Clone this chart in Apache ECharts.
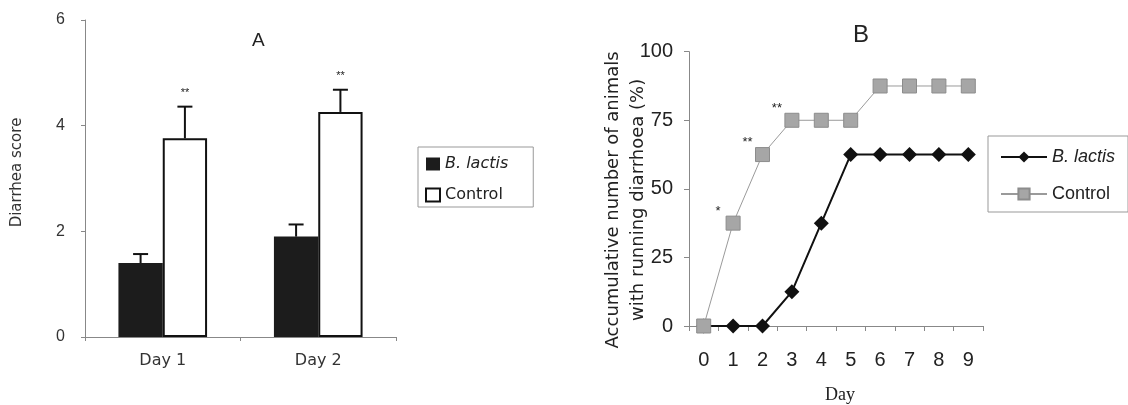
<!DOCTYPE html>
<html>
<head>
<meta charset="utf-8">
<script src="https://cdn.jsdelivr.net/npm/echarts@6/dist/echarts.min.js"></script>
<style>html,body{margin:0;padding:0;background:#fff;}#c{width:1128px;height:405px;}</style>
</head>
<body>
<div id="c"></div>
<script>
// ---- Panel A data ----
const daysA = ['Day 1', 'Day 2'];
const scoreBlactis = [1.40, 1.90];
const scoreControl = [3.76, 4.26];
const errTopBlactis = [1.57, 2.13];
const errTopControl = [4.36, 4.68];
const sigA = ['**', '**'];
const yTicksA = [0, 2, 4, 6];

// ---- Panel B data ----
const daysB = ['0', '1', '2', '3', '4', '5', '6', '7', '8', '9'];
const pctBlactis = [0, 0, 0, 12.5, 37.5, 62.5, 62.5, 62.5, 62.5, 62.5];
const pctControl = [0, 37.5, 62.5, 75, 75, 75, 87.5, 87.5, 87.5, 87.5];
const sigB = ['', '*', '**', '**', '', '', '', '', '', ''];
const yTicksB = [0, 25, 50, 75, 100];

const FONT = 'Liberation Sans, Arial, sans-serif';
const WIDE = 'DejaVu Sans, Liberation Sans, sans-serif';
const HALF = 0.1425; // half bar offset as fraction of band width

function errRender(side, sig) {
  return function (params, api) {
    const c = api.value(0);
    const p0 = api.coord([c, api.value(1)]);
    const p1 = api.coord([c, api.value(2)]);
    const bw = api.size([1, 0])[0];
    const x = p0[0] + side * bw * HALF;
    const cap = 7.5;
    const children = [
      {type: 'line', shape: {x1: x, y1: p0[1], x2: x, y2: p1[1]}, style: {stroke: '#111', lineWidth: 2}},
      {type: 'line', shape: {x1: x - cap, y1: p1[1], x2: x + cap, y2: p1[1]}, style: {stroke: '#111', lineWidth: 2}}
    ];
    if (sig) {
      children.push({type: 'text', style: {text: sig[params.dataIndex], x: x, y: p1[1] - 8, align: 'center', verticalAlign: 'bottom', fill: '#222', font: '11px ' + FONT}});
    }
    return {type: 'group', children: children};
  };
}

const legendFmt = function (n) {
  const t = n.slice(2);
  return t === 'B. lactis' ? '{i|' + t + '}' : t;
};

const chart = echarts.init(document.getElementById('c'), null, {renderer: 'canvas'});
chart.setOption({
  animation: false,
  backgroundColor: '#fff',
  title: [
    {text: 'A', left: 247, top: 26, textStyle: {fontFamily: FONT, fontSize: 19, fontWeight: 'normal', color: '#222'}},
    {text: 'B', left: 848, top: 18, textStyle: {fontFamily: FONT, fontSize: 24, fontWeight: 'normal', color: '#222'}}
  ],
  legend: [
    {
      data: ['A_B. lactis', 'A_Control'], orient: 'vertical', left: 418, top: 147,
      itemWidth: 14, itemHeight: 13, itemGap: 15, icon: 'rect',
      padding: [9, 25, 4, 7], borderColor: '#999', borderWidth: 1,
      formatter: legendFmt,
      textStyle: {fontFamily: WIDE, fontSize: 16, color: '#222', rich: {i: {fontStyle: 'italic', fontSize: 16, fontFamily: WIDE, color: '#222'}}}
    },
    {
      data: ['B_B. lactis', 'B_Control'], orient: 'vertical', left: 988, top: 136,
      itemWidth: 46, itemHeight: 14, itemGap: 19,
      padding: [12, 13, 9, 12], borderColor: '#999', borderWidth: 1,
      formatter: legendFmt,
      textStyle: {fontFamily: FONT, fontSize: 18, color: '#222', rich: {i: {fontStyle: 'italic', fontSize: 18, fontFamily: FONT, color: '#222'}}}
    }
  ],
  grid: [
    {left: 85, top: 20, width: 311, height: 317, containLabel: false, outerBoundsMode: 'none'},
    {left: 689, top: 51.7, width: 294, height: 274.3, containLabel: false, outerBoundsMode: 'none'}
  ],
  xAxis: [
    {
      gridIndex: 0, type: 'category', data: daysA, boundaryGap: true,
      axisLine: {lineStyle: {color: '#888', width: 1}},
      axisTick: {show: true, inside: false, length: 4, lineStyle: {color: '#888'}},
      axisLabel: {fontFamily: WIDE, fontSize: 16, color: '#333', margin: 16}
    },
    {
      gridIndex: 1, type: 'category', data: daysB, boundaryGap: true,
      axisLine: {lineStyle: {color: '#888', width: 1}},
      axisTick: {show: true, inside: false, length: 5, interval: 0, lineStyle: {color: '#888'}},
      axisLabel: {fontFamily: FONT, fontSize: 20, color: '#222', margin: 24, interval: 0},
      name: 'Day', nameLocation: 'middle', nameGap: 60, nameMoveOverlap: false,
      nameTextStyle: {fontFamily: 'Liberation Serif, Times New Roman, serif', fontSize: 18, color: '#222', padding: [0, 0, 0, 8]}
    }
  ],
  yAxis: [
    {
      gridIndex: 0, type: 'value', min: yTicksA[0], max: yTicksA[yTicksA.length - 1], interval: 2,
      axisLine: {show: true, lineStyle: {color: '#888', width: 1}},
      axisTick: {show: true, inside: false, length: 4, lineStyle: {color: '#888'}},
      splitLine: {show: false},
      axisLabel: {fontFamily: FONT, fontSize: 16, color: '#333', margin: 20},
      name: 'Diarrhea score', nameLocation: 'middle', nameRotate: 90, nameGap: 60, nameMoveOverlap: false,
      nameTextStyle: {fontFamily: WIDE, fontSize: 15, color: '#333', padding: [0, 0, 0, 12]}
    },
    {
      gridIndex: 1, type: 'value', min: yTicksB[0], max: yTicksB[yTicksB.length - 1], interval: 25,
      axisLine: {show: true, lineStyle: {color: '#888', width: 1}},
      axisTick: {show: true, inside: false, length: 5, lineStyle: {color: '#888'}},
      splitLine: {show: false},
      axisLabel: {fontFamily: FONT, fontSize: 20, color: '#222', margin: 16},
      name: 'Accumulative number of animals\nwith running diarrhoea (%)', nameLocation: 'middle', nameRotate: 90, nameGap: 38, nameMoveOverlap: false,
      nameTextStyle: {fontFamily: WIDE, fontSize: 18, color: '#222', lineHeight: 25, padding: [0, 22, 0, 0]}
    }
  ],
  series: [
    {
      name: 'A_B. lactis', type: 'bar', xAxisIndex: 0, yAxisIndex: 0, data: scoreBlactis,
      barGap: '0%', barCategoryGap: '43%',
      itemStyle: {color: '#1c1c1c', borderColor: '#1c1c1c', borderWidth: 0}
    },
    {
      name: 'A_Control', type: 'bar', xAxisIndex: 0, yAxisIndex: 0, data: scoreControl,
      barGap: '0%', barCategoryGap: '43%',
      itemStyle: {color: '#ffffff', borderColor: '#111', borderWidth: 2}
    },
    {
      type: 'custom', xAxisIndex: 0, yAxisIndex: 0, z: 5,
      renderItem: errRender(-1, null),
      data: daysA.map((d, i) => [i, scoreBlactis[i], errTopBlactis[i]])
    },
    {
      type: 'custom', xAxisIndex: 0, yAxisIndex: 0, z: 5,
      renderItem: errRender(1, sigA),
      data: daysA.map((d, i) => [i, scoreControl[i], errTopControl[i]])
    },
    {
      name: 'B_B. lactis', type: 'line', xAxisIndex: 1, yAxisIndex: 1, data: pctBlactis,
      symbol: 'diamond', symbolSize: 15,
      lineStyle: {color: '#111', width: 2},
      itemStyle: {color: '#111', borderColor: '#111', borderWidth: 0},
      z: 3
    },
    {
      name: 'B_Control', type: 'line', xAxisIndex: 1, yAxisIndex: 1, data: pctControl,
      symbol: 'rect', symbolSize: 14,
      lineStyle: {color: '#9a9a9a', width: 1},
      itemStyle: {color: '#a6a6a6', borderColor: '#8c8c8c', borderWidth: 1},
      label: {
        show: true, position: 'top', distance: 0, offset: [-15, 2],
        formatter: p => sigB[p.dataIndex], fontFamily: FONT, fontSize: 13, color: '#222'
      },
      z: 4
    }
  ]
});
</script>
</body>
</html>
